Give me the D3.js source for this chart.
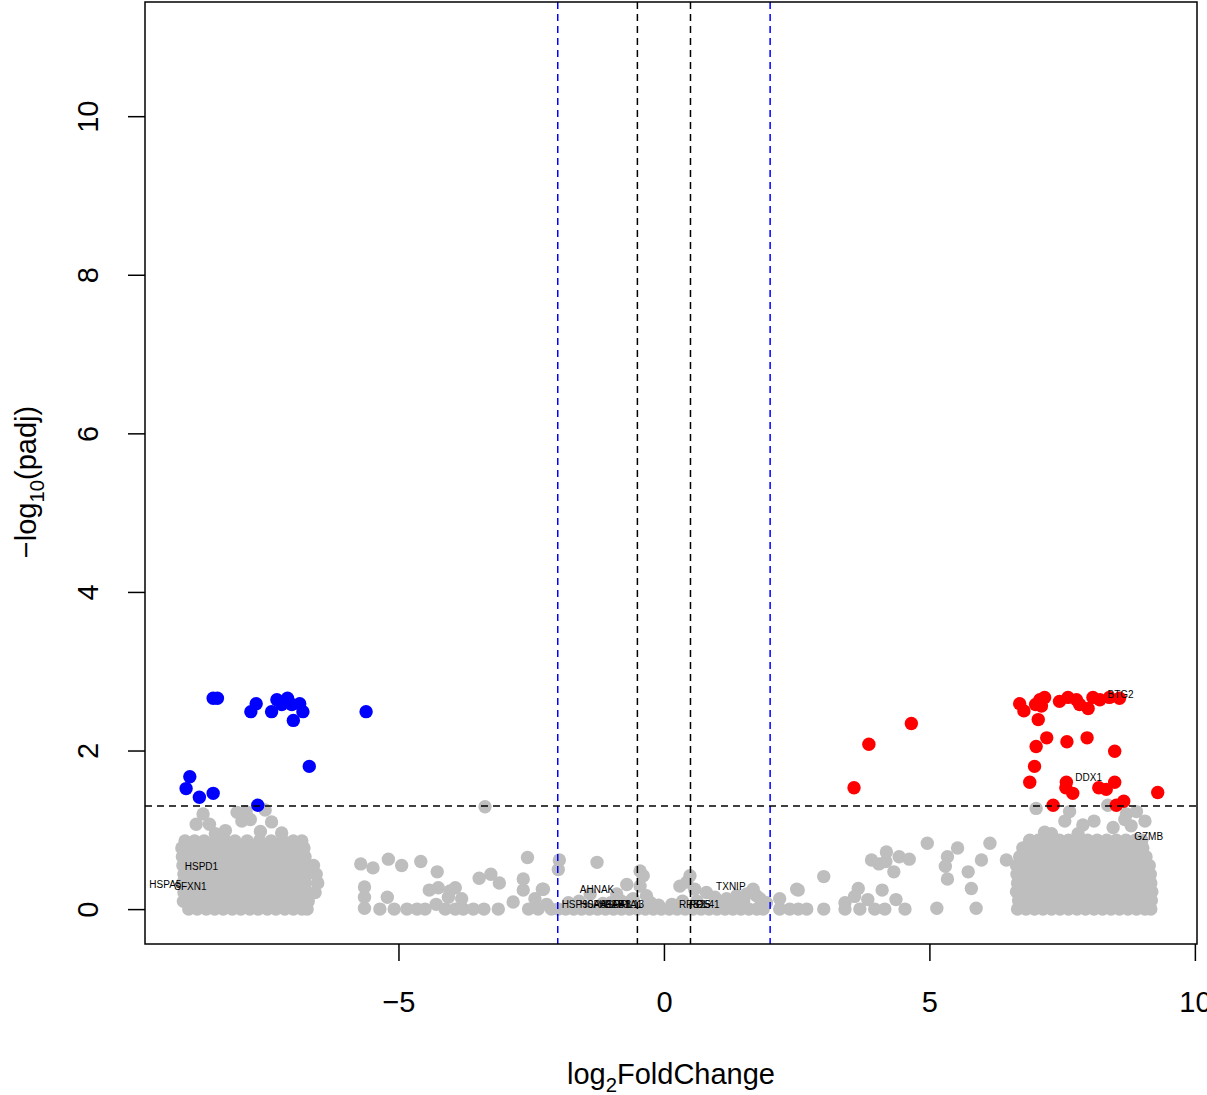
<!DOCTYPE html>
<html>
<head>
<meta charset="utf-8">
<script src="https://cdn.jsdelivr.net/npm/d3@7"></script>
<style>
  body { margin: 0; background: #fff; }
  text { font-family: "Liberation Sans", Arial, Helvetica, sans-serif; }
</style>
</head>
<body>
<svg id="volcano"></svg>
<script>
// log2FoldChange / -log10(padj)
const downGenes = [[-8.49,2.66],[-8.41,2.66],[-7.68,2.59],[-7.78,2.49],[-7.39,2.49],[-7.29,2.64],[-7.20,2.58],[-7.09,2.66],[-7.01,2.58],[-6.86,2.59],[-6.80,2.49],[-6.98,2.38],[-5.61,2.49],[-6.68,1.80],[-8.93,1.67],[-9.00,1.52],[-8.75,1.41],[-8.49,1.46],[-7.65,1.31]];
const upGenes = [[6.70,2.59],[6.78,2.50],[7.00,2.58],[7.08,2.64],[7.17,2.67],[7.11,2.56],[7.45,2.62],[7.61,2.67],[7.77,2.64],[7.83,2.58],[7.99,2.53],[8.08,2.67],[8.21,2.64],[8.39,2.67],[8.58,2.66],[7.05,2.39],[7.21,2.16],[7.01,2.05],[7.59,2.11],[7.97,2.16],[8.49,1.99],[6.98,1.80],[6.89,1.60],[7.58,1.60],[7.57,1.53],[7.70,1.46],[8.19,1.53],[8.33,1.51],[8.49,1.60],[9.30,1.47],[7.33,1.31],[8.52,1.31],[8.66,1.36],[3.58,1.53],[3.86,2.08],[4.66,2.34]];
// non-significant genes, the two dense blobs given row by row: [y, x values]
const leftBlobRows = [
  [0.00,[-8.95,-8.79,-8.62,-8.46,-8.30,-8.13,-7.97,-7.80,-7.64,-7.47,-7.31,-7.14,-6.98,-6.82,-6.72]],
  [0.10,[-9.05,-8.88,-8.71,-8.55,-8.38,-8.22,-8.05,-7.89,-7.72,-7.56,-7.39,-7.23,-7.06,-6.90,-6.70]],
  [0.21,[-9.04,-8.86,-8.70,-8.53,-8.36,-8.20,-8.03,-7.86,-7.70,-7.53,-7.37,-7.20,-7.03,-6.86,-6.72,-6.57]],
  [0.33,[-9.06,-8.90,-8.73,-8.57,-8.40,-8.24,-8.07,-7.90,-7.74,-7.57,-7.41,-7.24,-7.08,-6.91,-6.75,-6.52]],
  [0.44,[-9.04,-8.87,-8.71,-8.54,-8.38,-8.21,-8.05,-7.88,-7.72,-7.55,-7.39,-7.22,-7.06,-6.89,-6.72,-6.55]],
  [0.55,[-9.06,-8.89,-8.72,-8.56,-8.39,-8.23,-8.06,-7.90,-7.73,-7.57,-7.40,-7.24,-7.07,-6.91,-6.74,-6.60]],
  [0.66,[-9.07,-8.90,-8.74,-8.57,-8.41,-8.24,-8.08,-7.91,-7.75,-7.58,-7.42,-7.25,-7.09,-6.92,-6.76]],
  [0.77,[-9.08,-8.91,-8.75,-8.58,-8.42,-8.25,-8.09,-7.92,-7.76,-7.59,-7.43,-7.26,-7.10,-6.93,-6.78]],
  [0.86,[-9.02,-8.84,-8.66,-8.45,-8.26,-8.08,-7.85,-7.62,-7.40,-7.18,-6.98,-6.82]]
];
const rightBlobRows = [
  [0.00,[6.66,6.82,6.98,7.14,7.30,7.46,7.62,7.78,7.94,8.10,8.26,8.42,8.58,8.74,8.90,9.06,9.17]],
  [0.11,[6.68,6.84,7.00,7.16,7.32,7.48,7.64,7.80,7.96,8.12,8.28,8.44,8.60,8.76,8.92,9.08,9.18]],
  [0.22,[6.64,6.80,6.96,7.12,7.28,7.44,7.60,7.76,7.92,8.08,8.24,8.40,8.56,8.72,8.88,9.04,9.19]],
  [0.33,[6.66,6.82,6.98,7.14,7.30,7.46,7.62,7.78,7.94,8.10,8.26,8.42,8.58,8.74,8.90,9.06,9.17]],
  [0.44,[6.65,6.81,6.97,7.13,7.29,7.45,7.61,7.77,7.93,8.09,8.25,8.41,8.57,8.73,8.89,9.05,9.16]],
  [0.55,[6.64,6.80,6.96,7.12,7.28,7.44,7.60,7.76,7.92,8.08,8.24,8.40,8.56,8.72,8.88,9.04,9.14]],
  [0.66,[6.70,6.86,7.02,7.18,7.34,7.50,7.66,7.82,7.98,8.14,8.30,8.46,8.62,8.78,8.94,9.08]],
  [0.77,[6.76,6.92,7.08,7.24,7.40,7.56,7.72,7.88,8.04,8.20,8.36,8.52,8.68,8.84,9.02]],
  [0.87,[6.89,7.05,7.25,7.45,7.62,7.80,7.98,8.16,8.34,8.52,8.70,8.88,9.00]]
];
const greyOther = [[-8.81,1.07],[-8.68,1.20],[-8.56,1.07],[-8.26,0.99],[-8.04,1.22],[-7.95,1.11],[-7.87,1.23],[-7.79,1.13],[-7.51,1.25],[-7.39,1.10],[-7.60,0.98],[-7.20,0.96],[-8.45,0.95],
  [7.01,1.27],[7.17,0.97],[7.64,1.23],[7.55,1.11],[7.89,1.06],[8.10,1.11],[8.36,1.31],[8.71,1.20],[8.90,1.23],[9.06,1.11],[8.80,1.05],[8.68,1.13],[8.46,1.03],[7.30,0.95],[7.80,0.95],[6.89,0.86],[6.45,0.62],
  [-5.71,0.57],[-5.48,0.52],[-5.19,0.63],[-4.94,0.55],[-4.58,0.60],[-4.27,0.47],[-5.64,0.28],[-5.64,0.15],[-5.64,0.01],[-5.35,0],[-5.21,0.15],[-5.08,0],[-4.84,0],[-4.65,0],[-4.50,0],
  [-4.42,0.24],[-4.25,0.27],[-4.29,0.06],[-4.12,0],[-3.93,0],[-3.78,0],[-3.59,0],[-3.39,0],[-4.06,0.15],[-3.93,0.27],[-3.81,0.13],[-4.03,0.23],[-3.48,0.39],[-3.26,0.44],[-3.10,0.33],[-3.12,0],[-3.37,1.29],
  [-2.84,0.09],[-2.65,0.38],[-2.65,0.24],[-2.57,0.65],[-2.43,0.13],[-2.29,0.25],[-2.37,0],[-2.21,0.06],[-2.12,0],[-1.99,0],[-1.99,0.50],[-1.97,0.62],[-1.26,0.59],[-2.27,0.25],
  [-1.39,0.19],[-0.89,0.19],[-0.70,0.31],[-0.45,0.48],[-0.39,0.42],[-0.45,0.29],[-0.58,0.13],[-0.33,0.17],
  [0.30,0.29],[0.49,0.42],[0.43,0.34],[0.58,0.25],[0.80,0.21],[0.96,0.15],[1.18,0.13],[1.37,0.17],[1.56,0.19],[1.74,0.17],[1.93,0.08],[1.68,0.25],[2.50,0.25],
  [1.81,0.13],[1.87,0],[2.18,0.13],[2.18,0],[2.37,0],[2.53,0],[2.69,0],[2.53,0.24],[3.01,0.41],[3.01,0],[3.41,0.08],[3.41,0],
  [3.66,0.26],[3.59,0.16],[3.84,0.12],[3.69,0],[3.97,0],[4.16,0],[4.11,0.24],[4.37,0.12],[4.54,0],
  [3.91,0.62],[4.05,0.57],[4.19,0.72],[4.18,0.60],[4.33,0.47],[4.43,0.66],[4.62,0.63],[4.96,0.83],[5.14,0.01],
  [5.34,0.66],[5.30,0.54],[5.34,0.38],[5.53,0.77],[5.73,0.47],[5.79,0.26],[5.88,0.01],[5.98,0.62],[6.14,0.83],
  [-2.55,0],[-1.85,0],[-1.70,0],[-1.55,0],[-1.40,0],[-1.25,0],[-1.10,0],[-0.95,0],[-0.80,0],[-0.65,0],[-0.50,0],[-0.35,0],[-0.20,0],[-0.05,0],
  [0.10,0],[0.25,0],[0.40,0],[0.55,0],[0.70,0],[0.85,0],[1.00,0],[1.15,0],[1.30,0],[1.45,0],[1.60,0],[1.75,0],
  [-1.80,0.08],[-1.60,0.10],[-1.15,0.07],[-1.00,0.08],[-0.80,0.10],[-0.60,0.12],[-0.25,0.08],[0.35,0.10],[0.62,0.10],[1.05,0.06],[1.30,0.09],[1.50,0.10],[-0.10,0.05],[0.15,0.06]];
// labelled genes
const labelGenes = ['BTG2','DDX1','GZMB','HSPD1','HSPA5','SFXN1','AHNAK','TXNIP','HSP90AA1','HSP90AB1','HSPA8','EEF1A1','RPL13','RPS25','FOS','RPL41'];
const labelX = [8.60,8.00,9.13,-8.71,-9.39,-8.92,-1.26,1.26,-1.45,-1.11,-0.92,-0.76,-0.66,0.58,0.68,0.76];
const labelY = [2.71,1.66,0.91,0.54,0.31,0.28,0.25,0.29,0.06,0.06,0.06,0.06,0.06,0.06,0.06,0.06];
const xTicks = [-5,0,5,10], yTicks = [0,2,4,6,8,10];
const fcCut = [-2,2], fcInner = [-0.5,0.5], padjCut = -Math.log10(0.05);

const W = 1207, H = 1095;
const box = {left: 145, right: 1197, top: 2, bottom: 944};
const x = d3.scaleLinear().domain([-9.774, 10.04]).range([box.left, box.right]);
const y = d3.scaleLinear().domain([-0.44, 11.44]).range([box.bottom, box.top]);

const svg = d3.select('#volcano').attr('width', W).attr('height', H).style('background', '#fff');

const grey = greyOther.concat(...leftBlobRows.map(r => r[1].map(v => [v, r[0]])), ...rightBlobRows.map(r => r[1].map(v => [v, r[0]])));
const pts = svg.append('g');
pts.selectAll('.ns').data(grey).enter().append('circle').attr('class', 'ns')
  .attr('cx', d => x(d[0])).attr('cy', d => y(d[1])).attr('r', 6.7).attr('fill', '#bebebe');
pts.selectAll('.down').data(downGenes).enter().append('circle').attr('class', 'down')
  .attr('cx', d => x(d[0])).attr('cy', d => y(d[1])).attr('r', 6.7).attr('fill', '#0000ff');
pts.selectAll('.up').data(upGenes).enter().append('circle').attr('class', 'up')
  .attr('cx', d => x(d[0])).attr('cy', d => y(d[1])).attr('r', 6.7).attr('fill', '#ff0000');

// threshold lines
const lines = svg.append('g').attr('fill', 'none').attr('stroke-width', 1.5).attr('stroke-dasharray', '7,5');
lines.selectAll('.vb').data(fcCut).enter().append('line').attr('stroke', '#0000ff')
  .attr('x1', d => x(d)).attr('x2', d => x(d)).attr('y1', box.top).attr('y2', box.bottom);
lines.selectAll('.vk').data(fcInner).enter().append('line').attr('stroke', '#000')
  .attr('x1', d => x(d)).attr('x2', d => x(d)).attr('y1', box.top).attr('y2', box.bottom);
lines.append('line').attr('stroke', '#000').attr('x1', box.left).attr('x2', box.right).attr('y1', y(padjCut)).attr('y2', y(padjCut));

// gene names (overlap in the middle as in the original plot)
svg.append('g').selectAll('text').data(labelGenes).enter().append('text')
  .attr('x', (d, i) => x(labelX[i])).attr('y', (d, i) => y(labelY[i])).attr('dy', '0.35em')
  .attr('text-anchor', 'middle').attr('font-size', 10).attr('fill', '#000').text(d => d);

// box + axes
svg.append('rect').attr('x', box.left).attr('y', box.top).attr('width', box.right - box.left).attr('height', box.bottom - box.top)
  .attr('fill', 'none').attr('stroke', '#000').attr('stroke-width', 1.5);
const fs = 29;
const gx = svg.append('g').attr('transform', `translate(0,${box.bottom})`)
  .call(d3.axisBottom(x).tickValues(xTicks).tickSize(17).tickPadding(30).tickSizeOuter(0));
gx.select('.domain').remove();
gx.selectAll('.tick line').attr('stroke', '#000').attr('stroke-width', 1.5);
gx.selectAll('.tick text').attr('font-size', fs).attr('font-family', '"Liberation Sans", Arial, sans-serif').attr('fill', '#000');
const gy = svg.append('g').attr('transform', `translate(${box.left},0)`)
  .call(d3.axisLeft(y).tickValues(yTicks).tickSize(17).tickSizeOuter(0));
gy.select('.domain').remove();
gy.selectAll('.tick line').attr('stroke', '#000').attr('stroke-width', 1.5);
gy.selectAll('.tick text').attr('font-size', fs).attr('font-family', '"Liberation Sans", Arial, sans-serif').attr('fill', '#000')
  .attr('x', null).attr('dy', '0.35em').attr('text-anchor', 'middle').attr('transform', 'translate(-57,0) rotate(-90)');

// axis titles with subscripts
const xt = svg.append('text').attr('x', (box.left + box.right) / 2).attr('y', 1084).attr('text-anchor', 'middle').attr('font-size', fs);
xt.append('tspan').text('log');
xt.append('tspan').attr('font-size', fs * 0.7).attr('dy', 8).text('2');
xt.append('tspan').attr('dy', -8).text('FoldChange');
const yt = svg.append('text').attr('transform', `translate(36,482) rotate(-90)`).attr('text-anchor', 'middle').attr('font-size', fs);
yt.append('tspan').text('\u2212log');
yt.append('tspan').attr('font-size', fs * 0.7).attr('dy', 8).text('10');
yt.append('tspan').attr('dy', -8).text('(padj)');
</script>
</body>
</html>
